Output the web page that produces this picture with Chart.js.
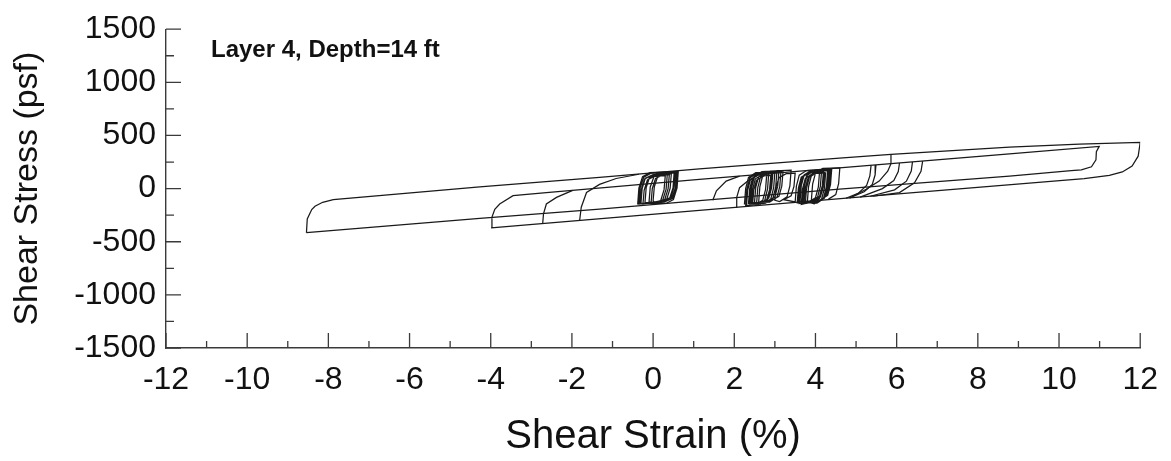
<!DOCTYPE html>
<html>
<head>
<meta charset="utf-8">
<title>Shear Stress vs Shear Strain</title>
<script src="https://cdn.jsdelivr.net/npm/chart.js"></script>
<style>
    html, body { margin: 0; padding: 0; background: #ffffff; }
    #chart1 { display: block; }
</style>
</head>
<body>
<canvas id="chart1" width="1171" height="461"></canvas>
<script>
/* ---------------------------------------------------------------------------------------- */
/* DATA  (strain in %, stress in psf)                                     */
/* ---------------------------------------------------------------------------------------- */

    var strainTicks = [-12, -10, -8, -6, -4, -2, 0, 2, 4, 6, 8, 10, 12];
    var stressTicks = [-1500, -1000, -500, 0, 500, 1000, 1500];
    var noteText    = 'Layer 4, Depth=14 ft';

    // outer loops: -8.5 -> 12 -> -4 -> 11 -> back to -8.5
    var outerStrain = [-8.54, -8.52, -8.41, -8.33, -8.14, -7.88, -4.27, -1.32, 1.14, 4.59, 5.86, 8.78, 10.5, 12.0,
                       11.95, 11.8, 11.56, 11.24, 10.62,
                       4.84, 1.14, -3.99,
                       -3.97, -3.90, -3.78, -3.45, -2.63,
                       1.14, 4.59, 8.78, 10.99,
                       10.92, 10.91, 10.8, 10.55, 10.3,
                       8.78, 4.59, 1.14, -1.32, -4.27, -8.54];
    var outerStress = [-415, -286, -197, -166, -129, -104, 16, 106, 185, 286, 322, 390, 418, 434,
                       305, 212, 157, 125, 95,
                       -88, -206, -369,
                       -268, -194, -145, -67, -37,
                       86, 194, 326, 397,
                       348, 270, 205, 176, 168,
                       117, -6, -114, -192, -280, -415];

    // reloading branches (null = new branch)
    var leftTurnStrain = [-2.72, -2.70, -2.63, -2.38, -1.98, null,
                          -1.81, -1.77, -1.64, -1.32, -0.91, -0.35, null,
                          1.47, 1.56, 1.80, 2.13, null,
                          2.05, 2.06, 2.13, 2.33, 2.60];
    var leftTurnStress = [-328, -237, -145, -83, -17, null,
                          -300, -175, -37, 40, 95, 135, null,
                          -110, -21, 71, 117, null,
                          -177, -83, 9, 71, 128];

    // unloading branches near 5-7 %
    var rightTurnStrain = [6.64, 6.60, 6.44, 6.07, 5.41, null,
                           6.39, 6.36, 6.24, 5.95, 5.35, null,
                           6.07, 6.04, 5.93, 5.65, 5.10, null,
                           5.86, 5.86, 5.78, 5.57, 5.25, 4.84, null,
                           5.49, 5.47, 5.40, 5.20, 4.84, null,
                           5.37, 5.34, 5.26, 5.05, 4.75];
    var rightTurnStress = [258, 163, 55, -37, -72, null,
                           251, 165, 70, -12, -72, null,
                           241, 160, 75, 0, -80, null,
                           322, 234, 164, 71, -6, -88, null,
                           222, 130, 40, -30, -88, null,
                           218, 120, 30, -45, -91];

    // small cycles around 0 %
    var zeroLoopStrain = [-0.38, -0.35, -0.26, -0.08, 0.62, 0.59, 0.50, 0.32,
                          -0.30, -0.27, -0.19, 0.00, 0.45, 0.42, 0.34, 0.16,
                          -0.10, -0.07, 0.02, 0.20, 0.60, 0.57, 0.48, 0.30,
                          -0.25, -0.22, -0.14, 0.02, 0.30, 0.27, 0.19, 0.05,
                          0.00, 0.03, 0.11, 0.28, 0.55, 0.52, 0.44, 0.28,
                          -0.05, -0.02, 0.06, 0.22, 0.40, 0.37, 0.29, 0.15,
                          -0.35, -0.32, -0.23, -0.05, 0.52, 0.49, 0.40, 0.22,
                          -0.20, -0.17, -0.09, 0.10, 0.58, 0.55, 0.46, 0.28,
                          -0.32, -0.29, -0.21, -0.03, 0.35, 0.32, 0.24, 0.08];
    var zeroLoopStress = [-150, 5, 113, 150, 162, 7, -103, -140,
                          -138, 0, 98, 132, 142, 5, -95, -128,
                          -125, 15, 112, 145, 152, 15, -90, -118,
                          -145, -15, 82, 115, 122, -10, -110, -138,
                          -112, 18, 110, 140, 148, 20, -82, -108,
                          -132, 0, 95, 126, 132, 0, -100, -128,
                          -145, 5, 108, 145, 155, 5, -100, -135,
                          -130, 10, 105, 138, 148, 10, -95, -125,
                          -142, -5, 92, 125, 135, -5, -105, -135];

    // small cycles between 2 and 4.6 %
    var midLoopStrain = [2.25, 2.28, 2.35, 2.53, 3.00, 2.97, 2.90, 2.72,
                         2.35, 2.38, 2.45, 2.63, 2.95, 2.92, 2.85, 2.67,
                         2.40, 2.43, 2.50, 2.68, 3.10, 3.07, 3.00, 2.82,
                         2.30, 2.33, 2.40, 2.58, 2.80, 2.77, 2.70, 2.52,
                         2.50, 2.53, 2.60, 2.78, 3.20, 3.17, 3.10, 2.92,
                         2.45, 2.48, 2.55, 2.73, 2.90, 2.87, 2.80, 2.62,
                         2.28, 2.31, 2.38, 2.56, 2.85, 2.82, 2.75, 2.57,
                         2.38, 2.41, 2.48, 2.66, 3.05, 3.02, 2.95, 2.77,
                         2.42, 2.45, 2.52, 2.70, 2.92, 2.89, 2.82, 2.64,
                         2.55, 2.58, 2.65, 2.83, 3.15, 3.12, 3.05, 2.87,
                         2.60, 2.63, 2.70, 2.88, 3.40, 3.37, 3.30, 3.12,
                         3.00, 3.03, 3.10, 3.28, 3.50, 3.47, 3.40, 3.22,
                         3.50, 3.53, 3.60, 3.78, 4.20, 4.17, 4.10, 3.92,
                         3.60, 3.63, 3.70, 3.88, 4.30, 4.27, 4.20, 4.02,
                         3.55, 3.58, 3.65, 3.83, 4.10, 4.07, 4.00, 3.82,
                         3.70, 3.73, 3.80, 3.98, 4.40, 4.37, 4.30, 4.12,
                         3.65, 3.68, 3.75, 3.93, 4.25, 4.22, 4.15, 3.97,
                         3.80, 3.83, 3.90, 4.08, 4.35, 4.32, 4.25, 4.07,
                         3.75, 3.78, 3.85, 4.03, 4.20, 4.17, 4.10, 3.92,
                         3.58, 3.61, 3.68, 3.86, 4.15, 4.12, 4.05, 3.87,
                         3.68, 3.71, 3.78, 3.96, 4.32, 4.29, 4.22, 4.04,
                         3.72, 3.75, 3.82, 4.00, 4.22, 4.19, 4.12, 3.94,
                         3.62, 3.65, 3.72, 3.90, 4.38, 4.35, 4.28, 4.10,
                         3.90, 3.93, 4.00, 4.18, 4.60, 4.57, 4.50, 4.32];
    var midLoopStress = [-150, 0, 105, 150, 158, 8, -97, -142,
                         -140, 0, 98, 140, 148, 8, -90, -132,
                         -130, 15, 117, 160, 168, 23, -78, -122,
                         -160, -15, 87, 130, 136, -9, -110, -152,
                         -120, 15, 110, 150, 158, 23, -72, -112,
                         -150, -15, 80, 120, 125, -10, -105, -145,
                         -165, -10, 99, 145, 152, -3, -111, -157,
                         -145, 5, 110, 155, 163, 13, -92, -137,
                         -155, -10, 92, 135, 141, -4, -106, -147,
                         -135, 12, 115, 158, 166, 19, -83, -127,
                         -130, 18, 120, 165, 174, 26, -77, -122,
                         -110, 15, 102, 140, 146, 21, -67, -104,
                         -125, 23, 126, 170, 178, 30, -73, -117,
                         -140, 10, 115, 160, 168, 18, -87, -132,
                         -135, 8, 107, 150, 156, 13, -86, -129,
                         -115, 30, 132, 175, 183, 38, -64, -107,
                         -150, -5, 97, 140, 147, 2, -100, -143,
                         -125, 20, 122, 165, 171, 26, -76, -119,
                         -140, 5, 107, 150, 155, 10, -92, -135,
                         -132, 13, 115, 158, 165, 20, -82, -125,
                         -145, 11, 120, 168, 176, 20, -89, -137,
                         -128, 9, 104, 145, 151, 14, -81, -121,
                         -120, 26, 128, 172, 180, 34, -68, -112,
                         -105, 43, 146, 190, 194, 46, -57, -99];

/* ---------------------------------------------------------------------------------------- */
/* STYLE                                                                                    */
/* ---------------------------------------------------------------------------------------- */

    var FONT  = '"Liberation Sans", Arial, Helvetica, sans-serif';
    var TEXT  = '#111111';
    var AXIS  = '#3a3a3a';
    var LINE  = '#1a1a1a';

/* ---------------------------------------------------------------------------------------- */
/* HELPERS                                                                                  */
/* ---------------------------------------------------------------------------------------- */

    // split paired arrays into separate paths at null
    function toPaths(xs, ys){
        var paths = [[]];
        for(let i = 0; i < xs.length; i++){
            if(xs[i] === null){
                paths.push([]);
                continue;
            }
            paths[paths.length-1].push({ x: xs[i], y: ys[i] });
        }
        return paths;
    }

    // inward major / minor tick marks, like the original plot
    var innerTicks = {
        id: 'innerTicks',
        afterDraw: function(chart){
            var ctx = chart.ctx;
            var a = chart.chartArea;
            var sx = chart.scales.x;
            var sy = chart.scales.y;
            ctx.save();
            ctx.strokeStyle = AXIS;
            ctx.lineWidth = 1.3;
            ctx.beginPath();
            for(let i = 0; i < strainTicks.length; i++){
                let p = sx.getPixelForValue(strainTicks[i]);
                ctx.moveTo(p, a.bottom); ctx.lineTo(p, a.bottom - 15);
                if(i < strainTicks.length-1){
                    let m = sx.getPixelForValue((strainTicks[i] + strainTicks[i+1]) / 2);
                    ctx.moveTo(m, a.bottom); ctx.lineTo(m, a.bottom - 7);
                }
            }
            for(let i = 0; i < stressTicks.length; i++){
                let p = sy.getPixelForValue(stressTicks[i]);
                ctx.moveTo(a.left, p); ctx.lineTo(a.left + 15, p);
                if(i < stressTicks.length-1){
                    let m = sy.getPixelForValue((stressTicks[i] + stressTicks[i+1]) / 2);
                    ctx.moveTo(a.left, m); ctx.lineTo(a.left + 8, m);
                }
            }
            ctx.stroke();
            ctx.restore();
        }
    };

    var layerNote = {
        id: 'layerNote',
        afterDraw: function(chart){
            var ctx = chart.ctx;
            var a = chart.chartArea;
            ctx.save();
            ctx.font = 'bold 24px ' + FONT;
            ctx.fillStyle = TEXT;
            ctx.textAlign = 'left';
            ctx.textBaseline = 'alphabetic';
            ctx.fillText(noteText, a.left + 45, a.top + 28);
            ctx.restore();
        }
    };

/* ---------------------------------------------------------------------------------------- */
/* BUILD CHART                                                                              */
/* ---------------------------------------------------------------------------------------- */

    var paths = []
        .concat(toPaths(outerStrain, outerStress))
        .concat(toPaths(leftTurnStrain, leftTurnStress))
        .concat(toPaths(rightTurnStrain, rightTurnStress))
        .concat(toPaths(zeroLoopStrain, zeroLoopStress))
        .concat(toPaths(midLoopStrain, midLoopStress));

    var datasets = paths.map(function(p){
        return {
            data: p,
            showLine: true,
            borderColor: LINE,
            borderWidth: 1.25,
            pointRadius: 0,
            tension: 0,
            fill: false
        };
    });

    var ctx = document.getElementById('chart1').getContext('2d');
    var chart1 = new Chart(ctx, {
        type: 'scatter',
        data: { datasets: datasets },
        options: {
            responsive: false,
            animation: false,
            devicePixelRatio: 1,
            layout: { padding: { left: 0, top: 23, right: 30, bottom: 0 } },
            plugins: {
                legend: { display: false },
                tooltip: { enabled: false }
            },
            scales: {
                x: {
                    type: 'linear',
                    min: -12,
                    max: 12,
                    grid: { display: false, drawTicks: false },
                    border: { display: true, color: AXIS, width: 1.4 },
                    afterBuildTicks: function(s){ s.ticks = strainTicks.map(function(v){ return { value: v }; }); },
                    afterFit: function(s){ s.height = 113; },
                    ticks: {
                        autoSkip: false,
                        maxRotation: 0,
                        padding: 13,
                        color: TEXT,
                        font: { family: FONT, size: 32 },
                        callback: function(v){ return String(v); }
                    },
                    title: {
                        display: true,
                        text: 'Shear Strain (%)',
                        color: TEXT,
                        font: { family: FONT, size: 40 },
                        padding: { top: 0, bottom: 0 }
                    }
                },
                y: {
                    type: 'linear',
                    min: -1500,
                    max: 1500,
                    grid: { display: false, drawTicks: false },
                    border: { display: true, color: AXIS, width: 1.4 },
                    afterBuildTicks: function(s){ s.ticks = stressTicks.map(function(v){ return { value: v }; }); },
                    afterFit: function(s){ s.width = 166; },
                    ticks: {
                        autoSkip: false,
                        padding: 10,
                        color: TEXT,
                        font: { family: FONT, size: 32 },
                        callback: function(v){ return String(v); }
                    },
                    title: {
                        display: true,
                        text: 'Shear Stress (psf)',
                        color: TEXT,
                        font: { family: FONT, size: 34 },
                        padding: { top: 7, bottom: 0 }
                    }
                }
            }
        },
        plugins: [innerTicks, layerNote]
    });
</script>
</body>
</html>
